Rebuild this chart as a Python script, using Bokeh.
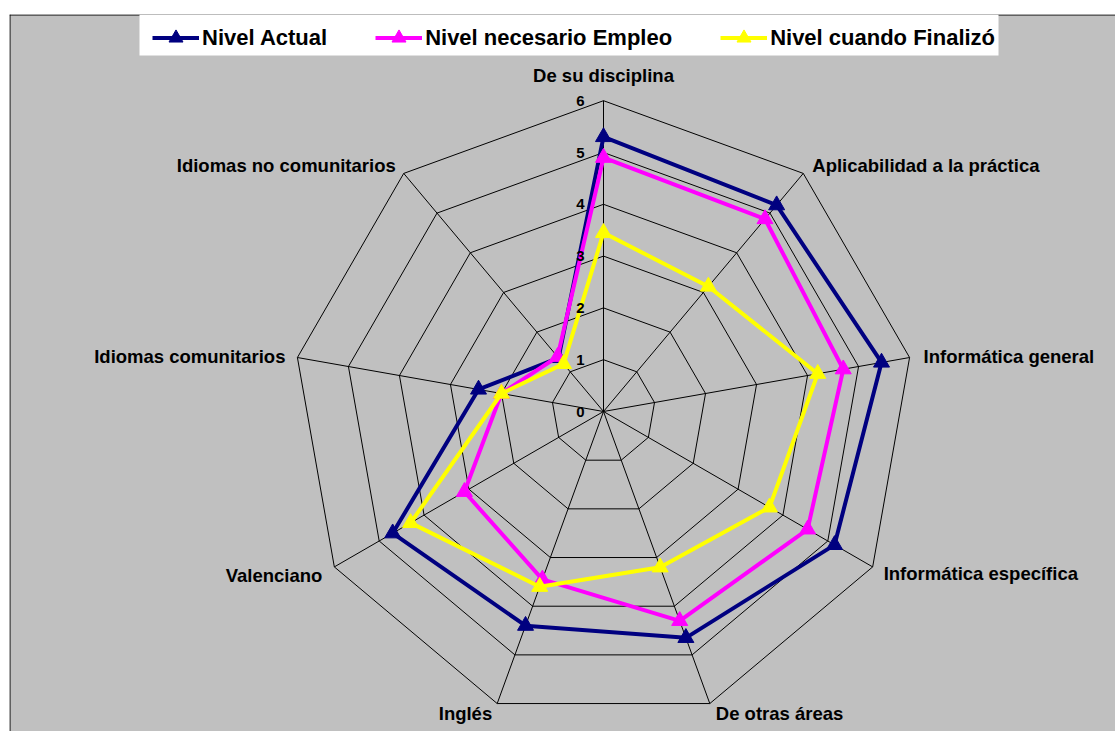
import math
from bokeh.plotting import figure
from bokeh.models import Legend, LegendItem, Span, BoxAnnotation
from bokeh.core.properties import value
from bokeh.embed import file_html
from bokeh.resources import INLINE

# ---------------- data ----------------
categories = [
    "De su disciplina",
    "Aplicabilidad a la práctica",
    "Informática general",
    "Informática específica",
    "De otras áreas",
    "Inglés",
    "Valenciano",
    "Idiomas comunitarios",
    "Idiomas no comunitarios",
]
nivel_actual = [5.3, 5.2, 5.45, 5.15, 4.65, 4.4, 4.7, 2.45, 1.35]
nivel_necesario = [4.9, 4.85, 4.7, 4.55, 4.3, 3.45, 3.1, 2.0, 1.38]
nivel_finalizo = [3.45, 3.15, 4.2, 3.7, 3.2, 3.6, 4.3, 2.0, 1.2]
series_names = ["Nivel Actual", "Nivel necesario Empleo", "Nivel cuando Finalizó"]
tick_values = [0, 1, 2, 3, 4, 5, 6]
tick_labels = ["0", "1", "2", "3", "4", "5", "6"]

# ---------------- layout ----------------
W, H = 1115, 731
ML, MT = 9, 14
FW, FH = W - ML, H - MT
CX, CY = 594, 397          # centre in frame pixels (from left / from top)
U = 51.8                   # pixels per unit
x0 = -CX / U
x1 = (FW - CX) / U
y1 = CY / U
y0 = -(FH - CY) / U

FONT = "Liberation Sans"
n = len(categories)
rmax = tick_values[-1]


def pt(k, r):
    a = math.pi / 2 - 2 * math.pi * k / n
    return r * math.cos(a), r * math.sin(a)


def px_x(px):   # frame pixel -> data x
    return x0 + px / U


def px_y(py):   # frame pixel from top -> data y
    return y1 - py / U


p = figure(width=W, height=H, x_range=(x0, x1), y_range=(y0, y1),
           output_backend="svg", toolbar_location=None,
           x_axis_type=None, y_axis_type=None, title=None,
           min_border_left=ML, min_border_top=MT,
           min_border_right=0, min_border_bottom=0,
           background_fill_color="#c0c0c0", border_fill_color="white",
           outline_line_color=None)
p.xgrid.visible = False
p.ygrid.visible = False

# frame border (left/top; right & bottom are outside the shot)
p.add_layout(Span(location=px_x(0.5), dimension="height", line_color="black", line_width=1))
p.add_layout(Span(location=px_y(0.5), dimension="width", line_color="black", line_width=1))

# rings
ring_xs, ring_ys = [], []
for r in tick_values[1:]:
    xs, ys = [], []
    for k in range(n + 1):
        x, y = pt(k % n, r)
        xs.append(x)
        ys.append(y)
    ring_xs.append(xs)
    ring_ys.append(ys)
p.multi_line(ring_xs, ring_ys, line_color="black", line_width=1)

# spokes
sp_xs, sp_ys = [], []
for k in range(n):
    x, y = pt(k, rmax)
    sp_xs.append([0, x])
    sp_ys.append([0, y])
p.multi_line(sp_xs, sp_ys, line_color="black", line_width=1)

# series
colors = ["#000080", "#ff00ff", "#ffff00"]
items = []
for name, vals, col in zip(series_names, [nivel_actual, nivel_necesario, nivel_finalizo], colors):
    xs, ys = [], []
    for k, v in enumerate(vals):
        x, y = pt(k, v)
        xs.append(x)
        ys.append(y)
    lr = p.line(xs + [xs[0]], ys + [ys[0]], line_color=col, line_width=4)
    sr = p.scatter(xs, ys, marker="triangle", size=16, fill_color=col, line_color=col)
    items.append(LegendItem(label=name, renderers=[lr, sr]))

# tick labels
p.text(x=[0] * len(tick_values), y=tick_values, text=tick_labels,
       x_offset=-19, text_align="right", text_baseline="middle",
       text_font=value(FONT), text_font_style="bold", text_font_size="15px",
       text_color="black")

# category labels
offsets = [(0, -25, "center"), (9, -8, "left"), (14, -1, "left"), (11, 6.5, "left"),
           (6, 10, "left"), (-5, 10, "right"), (-12, 8.5, "right"), (-12, -1, "right"),
           (-8, -8, "right")]
for k, cat in enumerate(categories):
    x, y = pt(k, rmax)
    dx, dy, al = offsets[k]
    p.text(x=[x], y=[y], text=[cat], x_offset=dx, y_offset=dy,
           text_align=al, text_baseline="middle",
           text_font=value(FONT), text_font_style="bold", text_font_size="18.5px",
           text_color="black")

# white legend box
p.add_layout(BoxAnnotation(left=px_x(130), right=px_x(989), top=px_y(0), bottom=px_y(41),
                           fill_color="white", fill_alpha=1.0, line_color=None))

legend = Legend(items=items, orientation="horizontal", location=(143, FH - 41),
                background_fill_alpha=0.0,
                border_line_color=None, padding=3, margin=0,
                glyph_width=47, glyph_height=35, label_standoff=3, spacing=48,
                label_text_font=FONT, label_text_font_style="bold",
                label_text_color="black",
                label_text_font_size="22px", label_height=20)
p.add_layout(legend, "center")

open("out.html", "w").write(file_html(p, INLINE))
